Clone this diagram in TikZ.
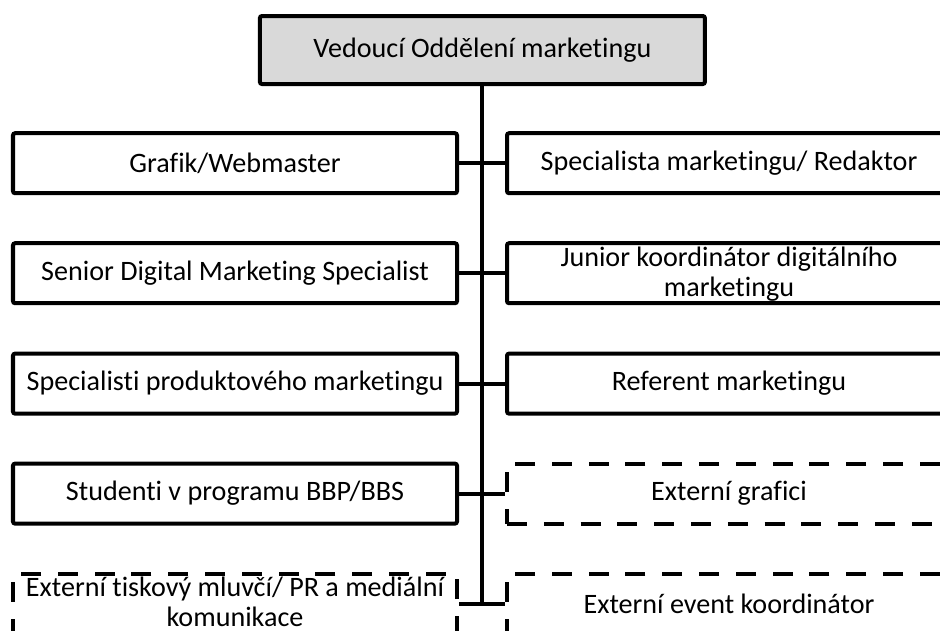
\documentclass[tikz,border=0pt]{standalone}
\usepackage{fontspec}
\setmainfont{Carlito}[Ligatures=NoCommon]
\usetikzlibrary{positioning}

\begin{document}
\begin{tikzpicture}[font=\fontsize{20pt}{21.34pt}\selectfont,
    pozice/.style={draw, line width=0.1cm, rounded corners=1.5pt, align=center,
        minimum width=11.1cm, minimum height=1.5cm, inner sep=0pt},
    dvaradky/.style={text height=1.33cm, text depth=0.17cm},
    externi/.style={pozice, dash pattern=on 0.5cm off 0.42cm, rounded corners=0pt},
    vedeni/.style={line width=0.1cm}
]

% Barvy
\definecolor{vedgray}{RGB}{217, 217, 217}

% Rozměr obrázku
\useasboundingbox (0, 0) rectangle (23.5, -15.75);
\clip (0, 0) rectangle (23.5, -15.75);

% ============ Vedoucí ============
\node[pozice, fill=vedgray, minimum width=11.125cm, minimum height=1.7cm] (ved) at (12.06, -1.25) {Vedoucí Oddělení marketingu};

% ============ Levý sloupec ============
\node[pozice] (l1) at (5.875, -4.08) {Grafik/Webmaster};
\node[pozice] (l2) at (5.875, -6.83) {Senior Digital Marketing Specialist};
\node[pozice] (l3) at (5.875, -9.59) {Specialisti produktového marketingu};
\node[pozice] (l4) at (5.875, -12.34) {Studenti v programu BBP/BBS};
\node[externi, dvaradky] (l5) at (5.875, -15.09) {Externí tiskový mluvčí/ PR a mediální\\komunikace};

% ============ Pravý sloupec ============
\node[pozice] (p1) at (18.225, -4.08) {Specialista marketingu/ Redaktor};
\node[pozice, dvaradky] (p2) at (18.225, -6.83) {Junior koordinátor digitálního\\marketingu};
\node[pozice] (p3) at (18.225, -9.59) {Referent marketingu};
\node[externi] (p4) at (18.225, -12.34) {Externí grafici};
\node[externi] (p5) at (18.225, -15.09) {Externí event koordinátor};

% Hlavní linie
\coordinate (konec) at (12.06, -15.09);
\draw[vedeni] (ved.south) -- (konec);

% Propojení řádků
\draw[vedeni] (l1.east) -- (p1.west);
\draw[vedeni] (l2.east) -- (p2.west);
\draw[vedeni] (l3.east) -- (p3.west);
\draw[vedeni] (l4.east) -- (p4.west);
\draw[vedeni] (l5.east) -- (p5.west);

\end{tikzpicture}
\end{document}
